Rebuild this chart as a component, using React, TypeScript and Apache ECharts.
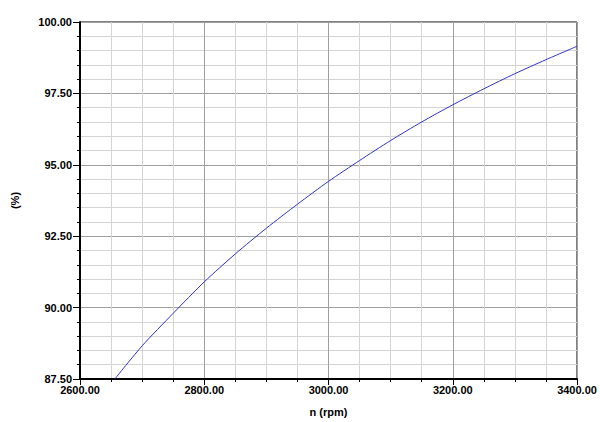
import React, { useEffect, useRef } from "react";
import * as echarts from "echarts";

const speedRpm = [2656, 2700, 2750, 2800, 2850, 2900, 2950, 3000, 3050, 3100, 3150, 3200, 3250, 3300, 3350, 3400];
const efficiencyPct = [87.5, 88.66, 89.8, 90.9, 91.88, 92.78, 93.62, 94.42, 95.15, 95.85, 96.5, 97.1, 97.66, 98.19, 98.68, 99.15];

const xName = "n (rpm)";
const yName = "(%)";

export default function App() {
  const ref = useRef<HTMLDivElement>(null);
  useEffect(() => {
    if (!ref.current) return;
    const chart = echarts.init(ref.current, undefined, { renderer: "svg" });
    const labelStyle = {
      color: "#000",
      fontFamily: "Liberation Sans, Arial, sans-serif",
      fontWeight: "bold" as const,
      fontSize: 11,
    };
    chart.setOption({
      animation: false,
      backgroundColor: "#ffffff",
      grid: {
        left: 80,
        top: 22,
        right: 23,
        bottom: 37,
        show: true,
        borderColor: "#000",
        borderWidth: 1,
        backgroundColor: "#ffffff",
      },
      xAxis: {
        type: "value",
        min: 2600,
        max: 3400,
        interval: 200,
        name: xName,
        nameLocation: "middle",
        nameGap: 27,
        nameTextStyle: labelStyle,
        axisLine: { show: true, lineStyle: { color: "#000", width: 2 } },
        axisTick: { show: true, length: 6, lineStyle: { color: "#000", width: 1 } },
        minorTick: { show: true, splitNumber: 4, length: 3, lineStyle: { color: "#000", width: 1 } },
        splitLine: { show: true, lineStyle: { color: "#a0a0a0", width: 1 } },
        minorSplitLine: { show: true, lineStyle: { color: "#d4d4d4", width: 1 } },
        axisLabel: { ...labelStyle, margin: 5, formatter: (v: number) => v.toFixed(2) },
      },
      yAxis: {
        type: "value",
        min: 87.5,
        max: 100,
        interval: 2.5,
        name: yName,
        nameLocation: "middle",
        nameGap: 60,
        nameTextStyle: labelStyle,
        axisLine: { show: true, lineStyle: { color: "#000", width: 2 } },
        axisTick: { show: true, length: 7, lineStyle: { color: "#000", width: 1 } },
        minorTick: { show: true, splitNumber: 5, length: 3, lineStyle: { color: "#000", width: 1 } },
        splitLine: { show: true, lineStyle: { color: "#a0a0a0", width: 1 } },
        minorSplitLine: { show: true, lineStyle: { color: "#d4d4d4", width: 1 } },
        axisLabel: { ...labelStyle, margin: 8, formatter: (v: number) => v.toFixed(2) },
      },
      series: [
        {
          type: "line",
          data: speedRpm.map((x, i) => [x, efficiencyPct[i]]),
          showSymbol: false,
          symbol: "none",
          smooth: 0.25,
          lineStyle: { color: "#3030c8", width: 1 },
        },
      ],
    });
    return () => chart.dispose();
  }, []);
  return (
    <div
      ref={ref}
      style={{ position: "fixed", left: 0, top: 0, width: 600, height: 422 }}
    />
  );
}
